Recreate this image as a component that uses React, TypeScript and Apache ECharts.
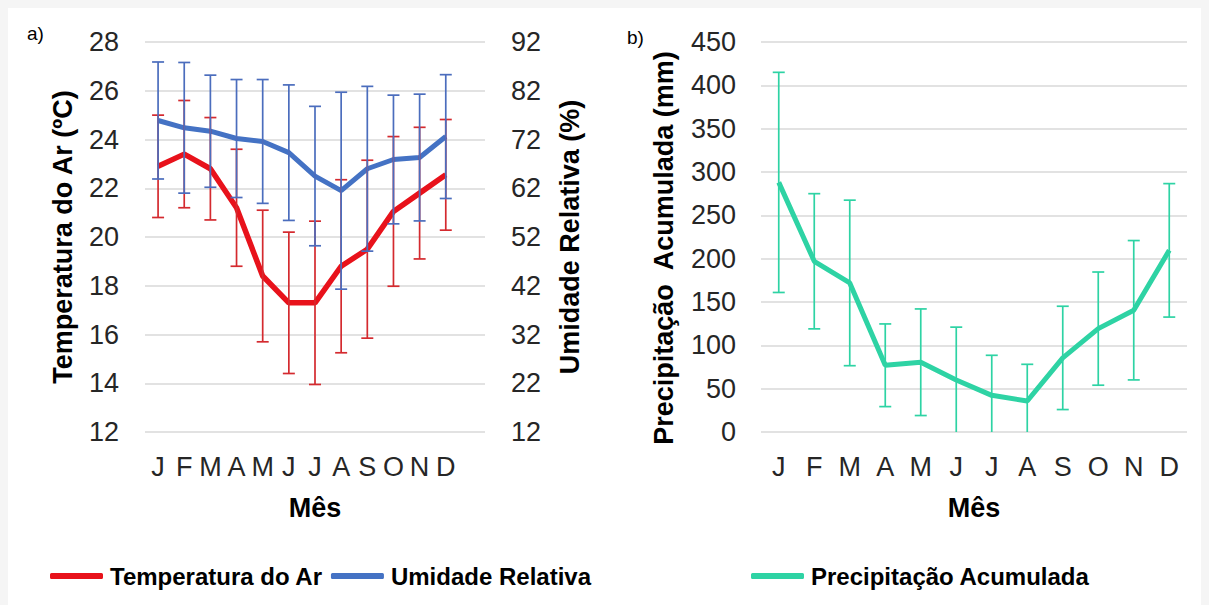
import React, { useEffect, useRef } from "react";
import * as echarts from "echarts";

const months = ["J", "F", "M", "A", "M", "J", "J", "A", "S", "O", "N", "D"];
const tempTicks = [12, 28, 2];
const humTickLabels = [12, 22, 32, 42, 52, 62, 72, 82, 92];

const tempMean = [22.9, 23.4, 22.8, 21.2, 18.4, 17.3, 17.3, 18.8, 19.5, 21.05, 21.8, 22.55];
const tempErr = [2.1, 2.2, 2.1, 2.4, 2.7, 2.9, 3.35, 3.55, 3.65, 3.07, 2.7, 2.27];

const humMean = [75.9, 74.4, 73.7, 72.2, 71.6, 69.3, 64.5, 61.5, 66.0, 67.9, 68.3, 72.6];
const humErr = [12.0, 13.4, 11.5, 12.1, 12.7, 13.9, 14.3, 20.2, 16.9, 13.2, 13.0, 12.7];

const precMean = [288, 197, 172, 77, 80.5, 60, 42.3, 35.8, 85.5, 119.3, 140.5, 209.6];
const precErr = [127, 78, 95.5, 47.7, 61.5, 61, 46.2, 42.3, 59.6, 65.3, 80.4, 77];

const FONT = "'Liberation Sans', Arial, sans-serif";
const RED = "#E8121B";
const RED_ERR = "#D42A2F";
const BLUE = "#4472C4";
const BLUE_ERR = "#4B6DBD";
const TEAL = "#2ED3A4";
const GRID_COLOR = "#D9D9D9";
const TEXT = "#262626";

function errData(mean: number[], err: number[]) {
  return mean.map((m, i) => [i, m - err[i], m + err[i]]);
}

function errRender(color: string, capHalf: number) {
  return (params: any, api: any) => {
    const x = api.value(0);
    const lo = api.coord([x, api.value(1)]);
    const hi = api.coord([x, api.value(2)]);
    const style = { stroke: color, lineWidth: 1.7 };
    return {
      type: "group",
      children: [
        { type: "line", shape: { x1: lo[0], y1: lo[1], x2: hi[0], y2: hi[1] }, style },
        { type: "line", shape: { x1: hi[0] - capHalf, y1: hi[1], x2: hi[0] + capHalf, y2: hi[1] }, style },
        { type: "line", shape: { x1: lo[0] - capHalf, y1: lo[1], x2: lo[0] + capHalf, y2: lo[1] }, style },
      ],
    };
  };
}

export default function App() {
  const ref = useRef<HTMLDivElement>(null);

  useEffect(() => {
    document.body.style.background = "#f5f5f5";
    const chart = echarts.init(ref.current!, null, { renderer: "svg" });

    const tickLabel = { color: TEXT, fontSize: 27, fontFamily: FONT };
    const axisName = { color: "#000", fontSize: 27, fontWeight: "bold" as const, fontFamily: FONT };
    const legendText = { color: "#000", fontSize: 24, fontWeight: "bold" as const, fontFamily: FONT, padding: [0, 0, 0, 2] };

    chart.setOption({
      animation: false,
      backgroundColor: "#ffffff",
      textStyle: { fontFamily: FONT },
      grid: [
        { left: 137, top: 34, width: 340, height: 390 },
        { left: 753, top: 34, width: 426, height: 390 },
      ],
      xAxis: [
        {
          type: "category",
          gridIndex: 0,
          data: [...months, ""],
          boundaryGap: true,
          axisLine: { show: false },
          axisTick: { show: false },
          axisLabel: { ...tickLabel, interval: 0, margin: 21 },
          name: "Mês",
          nameLocation: "middle",
          nameGap: 62.5,
          nameTextStyle: axisName,
        },
        {
          type: "category",
          gridIndex: 1,
          data: months,
          boundaryGap: true,
          axisLine: { show: false },
          axisTick: { show: false },
          axisLabel: { ...tickLabel, interval: 0, margin: 21 },
          name: "Mês",
          nameLocation: "middle",
          nameGap: 62.5,
          nameTextStyle: axisName,
        },
      ],
      yAxis: [
        {
          type: "value",
          gridIndex: 0,
          position: "left",
          min: tempTicks[0],
          max: tempTicks[1],
          interval: tempTicks[2],
          axisLine: { show: false },
          axisTick: { show: false },
          axisLabel: { ...tickLabel, margin: 26 },
          splitLine: { lineStyle: { color: GRID_COLOR, width: 1.5 } },
          name: "Temperatura do Ar (ºC)",
          nameLocation: "middle",
          nameRotate: 90,
          nameGap: 68.5,
          nameTextStyle: axisName,
        },
        {
          type: "value",
          gridIndex: 0,
          position: "right",
          min: humTickLabels[0],
          max: humTickLabels[humTickLabels.length - 1],
          axisLine: { show: false },
          axisTick: { show: false },
          axisLabel: { ...tickLabel, margin: 26, customValues: humTickLabels },
          splitLine: { show: false },
          name: "Umidade Relativa (%)",
          nameLocation: "middle",
          nameRotate: 90,
          nameGap: 71.5,
          nameTextStyle: axisName,
        },
        {
          type: "value",
          gridIndex: 1,
          position: "left",
          min: 0,
          max: 450,
          interval: 50,
          axisLine: { show: false },
          axisTick: { show: false },
          axisLabel: { ...tickLabel, margin: 25 },
          splitLine: { lineStyle: { color: GRID_COLOR, width: 1.5 } },
          name: "Precipitação  Acumulada (mm)",
          nameLocation: "middle",
          nameRotate: 90,
          nameGap: 83.5,
          nameTextStyle: { ...axisName, padding: [0, 22, 0, 0] },
        },
      ],
      legend: [
        {
          data: ["Temperatura do Ar", "Umidade Relativa"],
          left: 42,
          top: 556,
          padding: 0,
          icon: "roundRect",
          itemWidth: 53,
          itemHeight: 6,
          itemGap: 8,
          textStyle: legendText,
        },
        {
          data: ["Precipitação Acumulada"],
          left: 743,
          top: 556,
          padding: 0,
          icon: "roundRect",
          itemWidth: 53,
          itemHeight: 6,
          textStyle: legendText,
        },
      ],
      graphic: [
        { type: "text", left: 19, top: 16, style: { text: "a)", fontSize: 19, fontFamily: FONT, fill: "#000" } },
        { type: "text", left: 619, top: 20, style: { text: "b)", fontSize: 19, fontFamily: FONT, fill: "#000" } },
      ],
      series: [
        {
          name: "Temperatura do Ar",
          type: "line",
          xAxisIndex: 0,
          yAxisIndex: 0,
          data: tempMean,
          symbol: "none",
          lineStyle: { color: RED, width: 5.5 },
          itemStyle: { color: RED },
          z: 2,
        },
        {
          name: "Umidade Relativa",
          type: "line",
          xAxisIndex: 0,
          yAxisIndex: 1,
          data: humMean,
          symbol: "none",
          lineStyle: { color: BLUE, width: 5 },
          itemStyle: { color: BLUE },
          z: 3,
        },
        {
          name: "errTemp",
          type: "custom",
          xAxisIndex: 0,
          yAxisIndex: 0,
          data: errData(tempMean, tempErr),
          encode: { x: 0, y: [1, 2] },
          renderItem: errRender(RED_ERR, 6),
          clip: true,
          z: 4,
        },
        {
          name: "errHum",
          type: "custom",
          xAxisIndex: 0,
          yAxisIndex: 1,
          data: errData(humMean, humErr),
          encode: { x: 0, y: [1, 2] },
          renderItem: errRender(BLUE_ERR, 6),
          clip: true,
          z: 5,
        },
        {
          name: "Precipitação Acumulada",
          type: "line",
          xAxisIndex: 1,
          yAxisIndex: 2,
          data: precMean,
          symbol: "none",
          lineStyle: { color: TEAL, width: 5 },
          itemStyle: { color: TEAL },
          z: 2,
        },
        {
          name: "errPrec",
          type: "custom",
          xAxisIndex: 1,
          yAxisIndex: 2,
          data: errData(precMean, precErr),
          encode: { x: 0, y: [1, 2] },
          renderItem: errRender(TEAL, 6),
          clip: true,
          z: 4,
        },
      ],
    });

    return () => {
      chart.dispose();
    };
  }, []);

  return <div ref={ref} style={{ width: 1201, height: 597, background: "#ffffff" }} />;
}
